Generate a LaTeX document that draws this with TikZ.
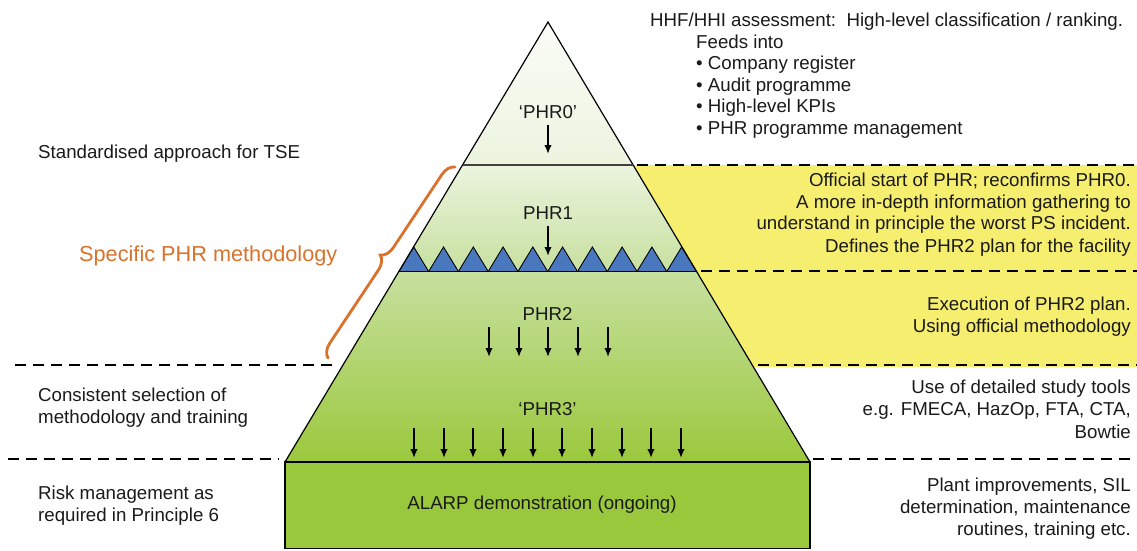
\documentclass[tikz,border=0pt]{standalone}
\usepackage{fontspec}
\setmainfont{Liberation Sans}
\usetikzlibrary{calc,decorations.pathreplacing,arrows.meta}
\definecolor{yel}{HTML}{F6EE6E}
\definecolor{gtop}{HTML}{FBFCF7}
\definecolor{gone}{HTML}{ECF4DF}
\definecolor{gtwo}{HTML}{C7E09F}
\definecolor{gbot}{HTML}{9BC83D}
\definecolor{alarp}{HTML}{9AC83C}
\definecolor{blu}{HTML}{4A78BE}
\definecolor{orng}{HTML}{D8722C}
\definecolor{ink}{HTML}{1A1A1A}
\begin{document}
\begin{tikzpicture}[x=1pt,y=-1pt,
  txt/.style={font=\fontsize{18.7}{21.7}\selectfont, inner sep=0pt, text=ink},
  dashln/.style={line width=2pt, dash pattern=on 11pt off 7pt},
  arr/.style={line width=1.7pt, -{Latex[length=9pt,width=7.5pt]}},
  pedge/.style={line width=1.2pt}]
\useasboundingbox (0,0) rectangle (1137,550);
\coordinate (A) at (548,22);
\coordinate (BL) at (285,462);
\coordinate (BR) at (810,462);
\coordinate (L1) at ($(A)!0.325!(BL)$);
\coordinate (R1) at ($(A)!0.325!(BR)$);
\coordinate (L2) at ($(A)!0.567!(BL)$);
\coordinate (R2) at ($(A)!0.567!(BR)$);
\coordinate (R3) at ($(A)!0.784!(BR)$);
% yellow band
\coordinate (Y1) at (1137,165);
\coordinate (Y2) at (1137,367);
\fill[yel] (R1) -- (Y1) -- (Y2) -- (R3) -- cycle;
% pyramid fills
\shade[top color=gtop, bottom color=gone] (A) -- (L1) -- (R1) -- cycle;
\shade[top color=gone, bottom color=gtwo] (L1) -- (L2) -- (R2) -- (R1) -- cycle;
\shade[top color=gtwo, bottom color=gbot] (L2) -- (BL) -- (BR) -- (R2) -- cycle;
% blue teeth
\foreach \i in {0,...,9} {
  \filldraw[fill=blu, draw=black, line width=0.9pt]
    ($(L2)!{\i/10}!(R2)$) -- ($(L2)!{(\i+0.5)/10}!(R2) + (0,-24.5)$) -- ($(L2)!{(\i+1)/10}!(R2)$) -- cycle;
}
% outline and level lines
\draw[pedge] (BL) -- (A) -- (BR);
\draw[line width=1.7pt, black!75] (L1) -- (R1);
\draw[line width=1.4pt] (L2) -- (R2);
% ALARP box
\draw[fill=alarp, line width=1.2pt] (BL) rectangle (810,548.5);
\node[txt, anchor=base] (alarp) at (542,509.3) {ALARP demonstration (ongoing)};
% dashed lines
\coordinate (da1) at (637,165);   \coordinate (db1) at (1137,165);
\coordinate (da2) at (701,270.5); \coordinate (db2) at (1137,270.5);
\coordinate (da3) at (758,365);   \coordinate (db3) at (1137,365);
\coordinate (da4) at (15,365);    \coordinate (db4) at (336,365);
\coordinate (da5) at (8,459);     \coordinate (db5) at (279,459);
\coordinate (da6) at (813,459);   \coordinate (db6) at (1137,459);
\draw[dashln] (da1) -- (db1);
\draw[dashln] (da2) -- (db2);
\draw[dashln] (da3) -- (db3);
\draw[dashln] (da4) -- (db4);
\draw[dashln] (da5) -- (db5);
\draw[dashln] (da6) -- (db6);
% pyramid labels and arrows
\node[txt, anchor=base] (p0) at (548,118.5) {‘PHR0’};
\coordinate (p0a) at (548,125); \coordinate (p0b) at (548,154);
\draw[arr] (p0a) -- (p0b);
\node[txt, anchor=base] (p1) at (548,219.5) {PHR1};
\coordinate (p1a) at (548,226); \coordinate (p1b) at (548,256);
\draw[arr] (p1a) -- (p1b);
\node[txt, anchor=base] (p2) at (547.5,320) {PHR2};
\foreach \x [count=\i] in {489,519,548,578,608} {
  \coordinate (p2a\i) at (\x,327);
  \coordinate (p2b\i) at (\x,357);
  \draw[arr] (p2a\i) -- (p2b\i);
}
\node[txt, anchor=base] (p3) at (547.5,415) {‘PHR3’};
\foreach \x [count=\i] in {414,444,473,503,533,562,592,622,651,681} {
  \coordinate (p3a\i) at (\x,428);
  \coordinate (p3b\i) at (\x,458);
  \draw[arr] (p3a\i) -- (p3b\i);
}
% brace
\coordinate (bb) at (328,358);
\coordinate (bt) at (455,167);
\draw[orng, line width=2.8pt, line cap=round, decorate, decoration={brace, amplitude=13.5pt}] (bb) -- (bt);
\node[txt, text=orng, font=\fontsize{21.7}{26}\selectfont, anchor=base west] (spec) at (79,261) {Specific PHR methodology};
% left texts
\node[txt, anchor=base west] (l1) at (38,158.5) {Standardised approach for TSE};
\node[txt, anchor=base west] (l2) at (38,401.5) {Consistent selection of};
\node[txt, anchor=base west] (l3) at (38,423.5) {methodology and training};
\node[txt, anchor=base west] (l4) at (38,499.5) {Risk management as};
\node[txt, anchor=base west] (l5) at (38,521.5) {required in Principle 6};
% right top texts
\node[txt, anchor=base west] (t1) at (650,26.5) {HHF/HHI assessment:\ \ High-level classification / ranking.};
\node[txt, anchor=base west] (t2) at (696,48) {Feeds into};
\node[txt, anchor=base west] (t3) at (696,69.5) {• Company register};
\node[txt, anchor=base west] (t4) at (696,91) {• Audit programme};
\node[txt, anchor=base west] (t5) at (696,112.5) {• High-level KPIs};
\node[txt, anchor=base west] (t6) at (696,134) {• PHR programme management};
% yellow texts
\node[txt, anchor=base east] (y1) at (1131,186.5) {Official start of PHR; reconfirms PHR0.};
\node[txt, anchor=base east] (y2) at (1131,208) {A more in-depth information gathering to};
\node[txt, anchor=base east] (y3) at (1131,229.5) {understand in principle the worst PS incident.};
\node[txt, anchor=base east] (y4) at (1131,252.5) {Defines the PHR2 plan for the facility};
\node[txt, anchor=base east] (y5) at (1131,310.5) {Execution of PHR2 plan.};
\node[txt, anchor=base east] (y6) at (1131,332.5) {Using official methodology};
% lower right texts
\node[txt, anchor=base east] (r1) at (1131,393.5) {Use of detailed study tools};
\node[txt, anchor=base east] (r2) at (1131,415.5) {e.g. FMECA, HazOp, FTA, CTA,};
\node[txt, anchor=base east] (r3) at (1131,438) {Bowtie};
\node[txt, anchor=base east] (r4) at (1131,491.5) {Plant improvements, SIL};
\node[txt, anchor=base east] (r5) at (1131,513.5) {determination, maintenance};
\node[txt, anchor=base east] (r6) at (1131,535.5) {routines, training etc.};
\end{tikzpicture}
\end{document}
